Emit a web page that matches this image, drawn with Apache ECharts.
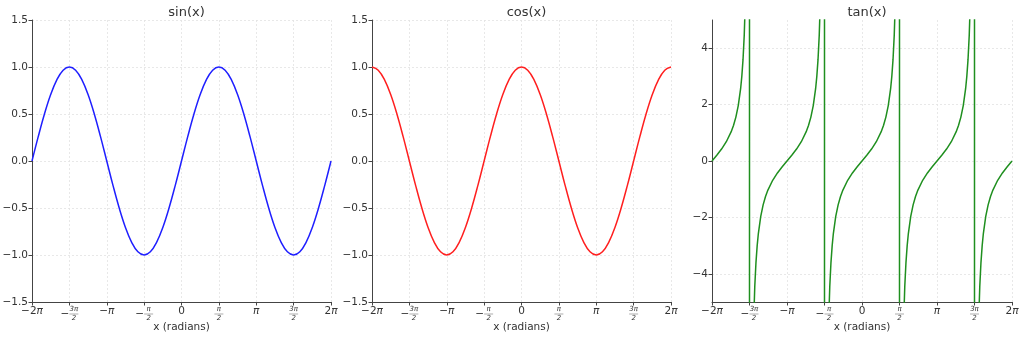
<!DOCTYPE html>
<html>
<head>
<meta charset="utf-8">
<script src="https://cdn.jsdelivr.net/npm/echarts@6/dist/echarts.min.js"></script>
<style>
  html, body { margin: 0; padding: 0; background: #fff; }
  #chart { width: 1024px; height: 338px; }
</style>
</head>
<body>
<div id="chart"></div>
<script>
// x samples, step pi/12, from -2pi to 2pi
const xs = [-6.2832, -6.0214, -5.7596, -5.4978, -5.2360, -4.9742, -4.7124, -4.4506, -4.1888, -3.9270,
  -3.6652, -3.4034, -3.1416, -2.8798, -2.6180, -2.3562, -2.0944, -1.8326, -1.5708, -1.3090, -1.0472,
  -0.7854, -0.5236, -0.2618, 0, 0.2618, 0.5236, 0.7854, 1.0472, 1.3090, 1.5708, 1.8326, 2.0944, 2.3562,
  2.6180, 2.8798, 3.1416, 3.4034, 3.6652, 3.9270, 4.1888, 4.4506, 4.7124, 4.9742, 5.2360, 5.4978,
  5.7596, 6.0214, 6.2832];
const sinValues = [0, 0.259, 0.5, 0.707, 0.866, 0.966, 1, 0.966, 0.866, 0.707, 0.5, 0.259, 0,
  -0.259, -0.5, -0.707, -0.866, -0.966, -1, -0.966, -0.866, -0.707, -0.5, -0.259, 0,
  0.259, 0.5, 0.707, 0.866, 0.966, 1, 0.966, 0.866, 0.707, 0.5, 0.259, 0,
  -0.259, -0.5, -0.707, -0.866, -0.966, -1, -0.966, -0.866, -0.707, -0.5, -0.259, 0];
const cosValues = [1, 0.966, 0.866, 0.707, 0.5, 0.259, 0, -0.259, -0.5, -0.707, -0.866, -0.966, -1,
  -0.966, -0.866, -0.707, -0.5, -0.259, 0, 0.259, 0.5, 0.707, 0.866, 0.966, 1,
  0.966, 0.866, 0.707, 0.5, 0.259, 0, -0.259, -0.5, -0.707, -0.866, -0.966, -1,
  -0.966, -0.866, -0.707, -0.5, -0.259, 0, 0.259, 0.5, 0.707, 0.866, 0.966, 1];

// tan: one period (offset from its centre) and the centres of the branches
const tanOffsets = [-1.57, -1.5, -1.45, -1.4, -1.35, -1.3, -1.25, -1.2, -1.1, -1.0, -0.9, -0.8, -0.6,
  -0.4, -0.2, 0, 0.2, 0.4, 0.6, 0.8, 0.9, 1.0, 1.1, 1.2, 1.25, 1.3, 1.35, 1.4, 1.45, 1.5, 1.57];
const tanValues = [-1255.8, -14.10, -8.238, -5.798, -4.455, -3.602, -3.010, -2.572, -1.965, -1.557,
  -1.260, -1.030, -0.684, -0.423, -0.203, 0, 0.203, 0.423, 0.684, 1.030, 1.260, 1.557, 1.965, 2.572,
  3.010, 3.602, 4.455, 5.798, 8.238, 14.10, 1255.8];
const tanCentres = [-6.2832, -3.1416, 0, 3.1416, 6.2832];

const piTicks = [-6.2832, -4.7124, -3.1416, -1.5708, 0, 1.5708, 3.1416, 4.7124, 6.2832];
const piLabels = ['−2π', '−3π/2', '−π', '−π/2', '0', 'π/2', 'π', '3π/2', '2π'];
const trigTicks = [-1.5, -1.0, -0.5, 0, 0.5, 1.0, 1.5];
const tanTicks = [-4, -2, 0, 2, 4];

const titles = ['sin(x)', 'cos(x)', 'tan(x)'];
const colors = ['#1f1fff', '#ff1f1f', '#1f8f1f'];

const tanData = [];
tanCentres.forEach(c => {
  tanOffsets.forEach((u, i) => {
    const x = c + u;
    if (x >= -6.2833 && x <= 6.2833) tanData.push([x, tanValues[i]]);
  });
});

const font = 'DejaVu Sans';
const gridLefts = [32, 372, 712];
const gridWidths = [299, 299, 300];

function piFormatter(v) {
  let idx = 0;
  piTicks.forEach((t, k) => { if (Math.abs(t - v) < Math.abs(piTicks[idx] - v)) idx = k; });
  const s = piLabels[idx];
  if (s.indexOf('/') < 0) return s.replace('π', '{p|π}');
  const neg = s[0] === '−';
  const body = neg ? s.slice(1) : s;
  const parts = body.split('/');
  if (neg) return '{sp|}{n|' + parts[0] + '}\n{m|−}{bar|}\n{sp|}{n|' + parts[1] + '}';
  return '{n|' + parts[0] + '}\n{bar|}\n{n|' + parts[1] + '}';
}

const richFrac = {
  p: { fontSize: 10.5, fontStyle: 'italic', color: '#333', fontFamily: font },
  n: { fontSize: 7, width: 11, align: 'center', lineHeight: 7, color: '#333', fontFamily: font, fontStyle: 'italic' },
  bar: { width: 9, height: 0.6, backgroundColor: '#777', lineHeight: 2 },
  m: { fontSize: 10.5, width: 9, align: 'right', lineHeight: 2, color: '#333', fontFamily: font },
  sp: { width: 9, lineHeight: 7 }
};

const splitLine = { show: true, lineStyle: { color: '#e2e2e2', type: [2, 2], width: 0.8 } };
const axisLine = { show: true, onZero: false, lineStyle: { color: '#444', width: 1 } };
const axisTick = { show: true, length: 3.5, lineStyle: { color: '#444' } };

const option = {
  animation: false,
  backgroundColor: '#fff',
  textStyle: { fontFamily: font },
  title: titles.map((t, i) => ({
    text: t,
    left: gridLefts[i] + gridWidths[i] / 2,
    top: 1,
    textAlign: 'center',
    textStyle: { fontSize: 13, fontWeight: 'normal', color: '#333', fontFamily: font }
  })),
  grid: gridLefts.map((l, i) => ({
    left: l, width: gridWidths[i], top: 20, height: 282,
    containLabel: false, outerBoundsMode: 'none'
  })),
  xAxis: [0, 1, 2].map(i => ({
    type: 'value',
    gridIndex: i,
    min: -6.2832,
    max: 6.2832,
    name: 'x (radians)',
    nameLocation: 'middle',
    nameGap: 20,
    nameMoveOverlap: false,
    nameTextStyle: { fontSize: 10.5, color: '#333', fontFamily: font },
    axisLine: axisLine,
    axisTick: Object.assign({ customValues: piTicks }, axisTick),
    splitLine: splitLine,
    axisLabel: {
      customValues: piTicks,
      formatter: piFormatter,
      fontSize: 10.5,
      color: '#333',
      margin: 4,
      fontFamily: font,
      rich: richFrac
    }
  })),
  yAxis: [0, 1, 2].map(i => {
    const ticks = i < 2 ? trigTicks : tanTicks;
    return {
      type: 'value',
      gridIndex: i,
      min: i < 2 ? -1.5 : -5,
      max: i < 2 ? 1.5 : 5,
      axisLine: axisLine,
      axisTick: Object.assign({ customValues: ticks }, axisTick),
      splitLine: splitLine,
      axisLabel: {
        customValues: ticks,
        formatter: v => (i < 2 ? Number(v).toFixed(1) : String(v)).replace('-', '−'),
        fontSize: 10.5,
        color: '#333',
        margin: 4,
        fontFamily: font
      }
    };
  }),
  series: [
    { type: 'line', xAxisIndex: 0, yAxisIndex: 0, data: xs.map((x, k) => [x, sinValues[k]]) },
    { type: 'line', xAxisIndex: 1, yAxisIndex: 1, data: xs.map((x, k) => [x, cosValues[k]]) },
    { type: 'line', xAxisIndex: 2, yAxisIndex: 2, data: tanData }
  ].map((s, i) => Object.assign(s, {
    smooth: i < 2 ? 0.4 : false,
    showSymbol: false,
    symbol: 'none',
    clip: true,
    lineStyle: { color: colors[i], width: 1.5 }
  }))
};

echarts.init(document.getElementById('chart')).setOption(option);
</script>
</body>
</html>
